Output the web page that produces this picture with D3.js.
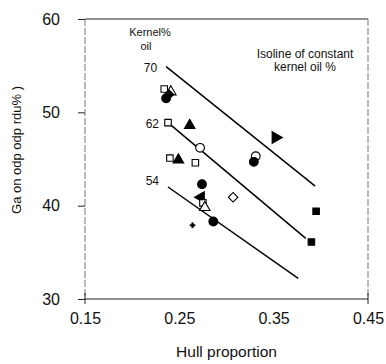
<!DOCTYPE html>
<html><head><meta charset="utf-8">
<script src="https://cdn.jsdelivr.net/npm/d3@7"></script>
<style>body{margin:0;background:#fff}svg{display:block}</style>
</head><body>
<script>
// ---- data ----
const hullProportion = [0.234,0.241,0.239,0.236,0.238,0.261,0.272,0.240,0.249,0.267,0.274,0.273,0.275,0.277,0.286,0.264,0.307,0.331,0.329,0.352,0.395,0.390];
const grainOil       = [52.5,52.2,51.9,51.5,48.9,48.6,46.2,45.1,44.9,44.6,42.3,40.9,40.3,39.8,38.3,37.9,40.9,45.3,44.7,47.3,39.4,36.1];
const markerShape    = ["square","triangle","diamond","circle","square","triangle","circle","square","triangle","square","circle","triangleLeft","square","triangle","circle","plus","diamond","circle","circle","triangleRight","square","square"];
const markerFilled   = [false,false,true,true,false,true,false,false,true,false,true,true,false,false,true,true,false,false,true,true,true,true];
const isolineLabels  = ["70","62","54"];
const isolineX1 = [0.236,0.238,0.238];
const isolineY1 = [54.9,48.9,42.0];
const isolineX2 = [0.394,0.384,0.376];
const isolineY2 = [42.1,36.5,32.2];
const xTicks = [0.15,0.25,0.35,0.45];
const yTicks = [30,40,50,60];

const W=386,H=364;
const svg=d3.select("body").append("svg").attr("width",W).attr("height",H);
const x=d3.scaleLinear().domain([0.15,0.45]).range([85,368]);
const y=d3.scaleLinear().domain([30,60]).range([299,19]);
const font="Liberation Sans, Arial, sans-serif";

// frame
svg.append("line").attr("x1",x(0.15)).attr("x2",x(0.45)).attr("y1",y(60)).attr("y2",y(60)).attr("stroke","#222").attr("stroke-width",1);
svg.append("line").attr("x1",x(0.15)).attr("x2",x(0.45)).attr("y1",y(30)).attr("y2",y(30)).attr("stroke","#222").attr("stroke-width",1);
svg.append("line").attr("x1",x(0.15)).attr("x2",x(0.15)).attr("y1",y(60)).attr("y2",y(30)).attr("stroke","#777").attr("stroke-width",1).attr("stroke-dasharray","7,2");
svg.append("line").attr("x1",x(0.45)).attr("x2",x(0.45)).attr("y1",y(60)).attr("y2",y(30)).attr("stroke","#777").attr("stroke-width",1).attr("stroke-dasharray","7,2");

// axes
const yAxis=d3.axisLeft(y).tickValues(yTicks).tickSize(7).tickPadding(18).tickFormat(d3.format("d"));
const gy=svg.append("g").attr("transform",`translate(${x(0.15)},0)`).call(yAxis);
gy.select(".domain").remove();
gy.selectAll("text").attr("font-family",font).attr("font-size",16).attr("fill","#111");
gy.selectAll("line").attr("stroke","#222");

const xAxis=d3.axisBottom(x).tickValues(xTicks).tickSize(0).tickPadding(14).tickFormat(d3.format(".2f"));
const gx=svg.append("g").attr("transform",`translate(0,${y(30)})`).call(xAxis);
gx.select(".domain").remove();
gx.selectAll("text").attr("font-family",font).attr("font-size",16).attr("fill","#111");
[0.15,0.45].forEach(v=>svg.append("line").attr("x1",x(v)).attr("x2",x(v)).attr("y1",y(30)-6).attr("y2",y(30)+5).attr("stroke","#222"));

svg.append("text").attr("x",(x(0.15)+x(0.45))/2).attr("y",357).attr("text-anchor","middle")
  .attr("font-family",font).attr("font-size",15.5).attr("fill","#111").text("Hull proportion");
svg.append("text").attr("transform",`translate(21,150) rotate(-90)`).attr("text-anchor","middle")
  .attr("font-family",font).attr("font-size",13).attr("fill","#111").text("Ga on odp odp rdu% )");

// isolines
isolineLabels.forEach((lab,i)=>{
  svg.append("line").attr("x1",x(isolineX1[i])).attr("y1",y(isolineY1[i])).attr("x2",x(isolineX2[i])).attr("y2",y(isolineY2[i]))
    .attr("stroke","#000").attr("stroke-width",1.5);
  svg.append("text").attr("x",x(isolineX1[i])-9).attr("y",y(isolineY1[i])+(i===2?-2:5)).attr("text-anchor","end")
    .attr("font-family",font).attr("font-size",12).attr("fill","#111").text(lab);
});

svg.append("text").attr("x",150).attr("y",36).attr("text-anchor","middle").attr("font-family",font).attr("font-size",11).attr("fill","#111").text("Kernel%");
svg.append("text").attr("x",146).attr("y",50).attr("text-anchor","middle").attr("font-family",font).attr("font-size",11).attr("fill","#111").text("oil");
svg.append("text").attr("x",305).attr("y",58).attr("text-anchor","middle").attr("font-family",font).attr("font-size",12).attr("fill","#111").text("Isoline of constant");
svg.append("text").attr("x",305).attr("y",71).attr("text-anchor","middle").attr("font-family",font).attr("font-size",12).attr("fill","#111").text("kernel oil %");

// markers
const symType={square:d3.symbolSquare,triangle:d3.symbolTriangle,triangleLeft:d3.symbolTriangle,triangleRight:d3.symbolTriangle,circle:d3.symbolCircle,diamond:d3.symbolSquare,plus:d3.symbolCross};
const symSize={square:42,triangle:48,triangleLeft:55,triangleRight:60,circle:60,diamond:45,plus:14};
const symRot={triangleLeft:-90,triangleRight:90,diamond:45};
hullProportion.forEach((h,i)=>{
  const s=markerShape[i];
  const p=d3.symbol().type(symType[s]).size(symSize[s]);
  svg.append("path").attr("d",p())
    .attr("transform",`translate(${x(h)},${y(grainOil[i])}) rotate(${symRot[s]||0})`)
    .attr("fill",markerFilled[i]?"#000":"#fff").attr("stroke","#000").attr("stroke-width",s==="plus"?0.5:1.1);
});
</script>
</body></html>
